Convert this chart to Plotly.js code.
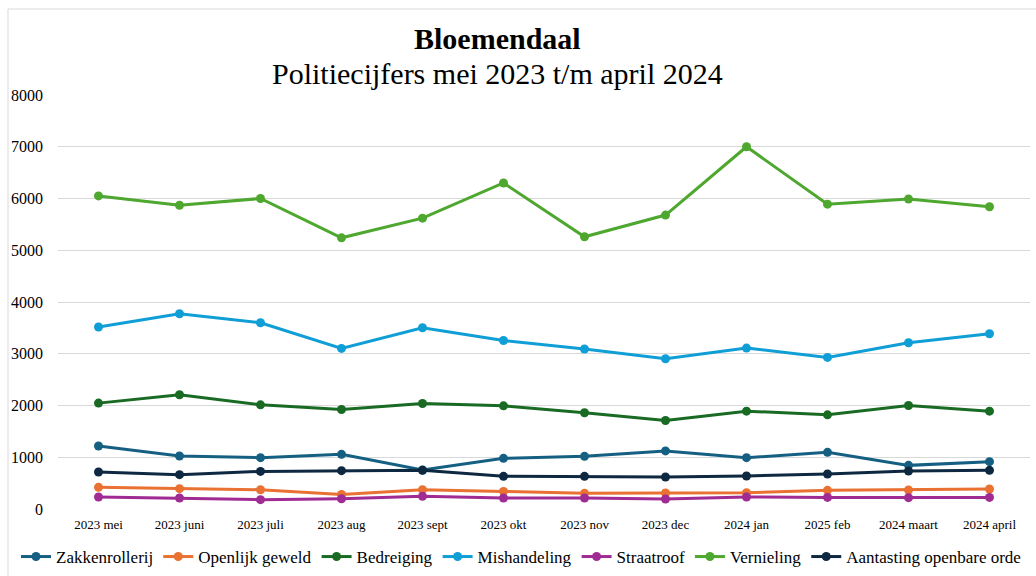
<!DOCTYPE html>
<html>
<head>
<meta charset="utf-8">
<script src="https://cdn.plot.ly/plotly-3.0.1.min.js"></script>
<style>html,body{margin:0;padding:0;background:#fff;}#chart{width:1036px;height:576px;}</style>
</head>
<body>
<div id="chart"></div>
<script>
const months = ["2023 mei","2023 juni","2023 juli","2023 aug","2023 sept","2023 okt","2023 nov","2023 dec","2024 jan","2025 feb","2024 maart","2024 april"];

const zakkenrollerij   = [1218,1025,992,1056,754,979,1017,1122,992,1095,843,915];
const openlijkGeweld   = [418,393,373,282,373,340,302,309,315,360,367,387];
const bedreiging       = [2046,2207,2013,1923,2039,1994,1859,1710,1891,1820,2000,1891];
const mishandeling     = [3516,3774,3600,3103,3503,3257,3091,2903,3110,2929,3213,3387];
const straatroof       = [232,213,180,199,244,213,213,193,232,224,219,224];
const vernieling       = [6050,5870,6000,5240,5620,6300,5260,5680,7000,5890,5990,5840];
const aantasting       = [716,663,727,741,747,631,631,619,638,677,735,747];

const seriesNames  = ["Zakkenrollerij","Openlijk geweld","Bedreiging","Mishandeling","Straatroof","Vernieling","Aantasting openbare orde"];
const seriesValues = [zakkenrollerij, openlijkGeweld, bedreiging, mishandeling, straatroof, vernieling, aantasting];
const seriesColors = ["#156082","#E97132","#196B24","#0F9ED5","#A02B93","#4EA72E","#0E2841"];

const traces = seriesNames.map((name, i) => ({
  type: "scatter",
  mode: "lines+markers",
  name: name,
  x: months,
  y: seriesValues[i],
  line: {color: seriesColors[i], width: 3},
  marker: {color: seriesColors[i], size: 9, symbol: "circle"}
}));

const serif = "Liberation Serif";
const W = 972, H = 414, L = 58, T = 95;
const px2x = p => (p - L) / W;
const py2y = p => (T + H - p) / H;

const layout = {
  width: 1036,
  height: 576,
  margin: {l: L, r: 1036 - L - W, t: T, b: 576 - T - H, autoexpand: false},
  paper_bgcolor: "#ffffff",
  plot_bgcolor: "#ffffff",
  font: {family: serif, color: "#000000"},
  xaxis: {
    type: "category",
    range: [-0.5, 11.5],
    showgrid: false,
    zeroline: false,
    showline: false,
    ticks: "",
    tickfont: {family: serif, size: 13, color: "#000"},
    ticklabelstandoff: 6
  },
  yaxis: {
    range: [0, 8000],
    dtick: 1000,
    showgrid: true,
    gridcolor: "#d9d9d9",
    gridwidth: 1,
    zeroline: false,
    showline: false,
    ticks: "",
    tickformat: "d",
    tickfont: {family: serif, size: 16, color: "#000"},
    ticklabelstandoff: 14
  },
  showlegend: true,
  legend: {
    orientation: "h",
    xref: "paper",
    yref: "paper",
    x: px2x(16),
    xanchor: "left",
    y: py2y(557),
    yanchor: "middle",
    font: {family: serif, size: 17, color: "#000"},
    itemwidth: 30,
    tracegroupgap: 0,
    bgcolor: "rgba(0,0,0,0)"
  },
  annotations: [
    {text: "<b>Bloemendaal</b>", xref: "paper", yref: "paper", x: px2x(497), y: py2y(38), xanchor: "center", yanchor: "middle", showarrow: false, font: {family: serif, size: 30, color: "#000"}},
    {text: "Politiecijfers mei 2023 t/m april 2024", xref: "paper", yref: "paper", x: px2x(497), y: py2y(73), xanchor: "center", yanchor: "middle", showarrow: false, font: {family: serif, size: 30, color: "#000"}}
  ],
  shapes: [
    {type: "rect", xref: "paper", yref: "paper", layer: "below", x0: px2x(8), x1: px2x(1045), y0: py2y(590), y1: py2y(9), line: {color: "#d9d9d9", width: 1}, fillcolor: "rgba(0,0,0,0)"}
  ]
};

Plotly.newPlot("chart", traces, layout, {displayModeBar: false, staticPlot: true});
</script>
</body>
</html>
